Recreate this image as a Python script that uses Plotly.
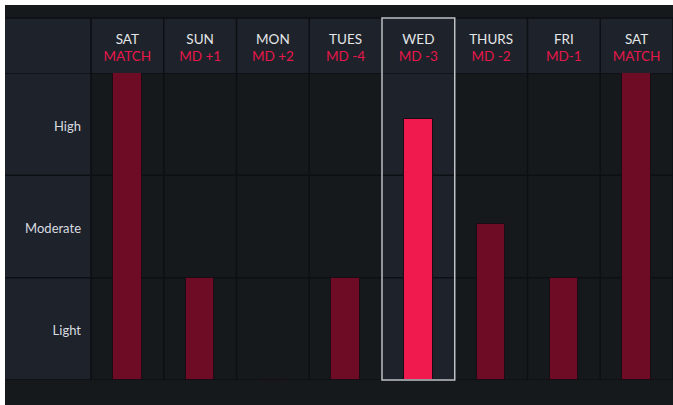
import plotly.graph_objects as go

# ---- data ----
days = ["SAT", "SUN", "MON", "TUES", "WED", "THURS", "FRI", "SAT"]
md_labels = ["MATCH", "MD +1", "MD +2", "MD -4", "MD -3", "MD -2", "MD-1", "MATCH"]
load_values = [3, 1, 0, 1, 2.55, 1.52, 1, 3]
levels = ["Light", "Moderate", "High"]
highlight_index = 4

# ---- styling ----
W, H = 673, 405
L, R, T, B = 91, 0, 73, 25
PW, PH = W - L - R, H - T - B
BG = "#15191c"
PANEL = "#1e222a"
GRID = "#0c0f13"
BAR = "#6e0c26"
BAR_HI = "#f01a4f"
RED_TXT = "#e5174b"
FONT = "Lato"
LABEL_NUDGE = 0.018  # small downward nudge of row labels, in row units


def px_x(px):
    return (px - L) / PW


def px_y(py):
    return (H - B - py) / PH


n = len(days)
x_idx = list(range(n))
colors = [BAR_HI if i == highlight_index else BAR for i in x_idx]
ticktext = [f"{d}<br><span style='color:{RED_TXT}'>{m}</span>" for d, m in zip(days, md_labels)]

fig = go.Figure()
fig.add_trace(go.Bar(
    x=x_idx, y=load_values, width=0.39,
    marker=dict(color=colors, line=dict(color="#1a0b14", width=1)),
    hoverinfo="skip",
))

shapes = []
# white outer margin strips
shapes.append(dict(type="rect", xref="paper", yref="paper", x0=px_x(0), x1=px_x(5), y0=px_y(H), y1=px_y(0),
                   fillcolor="white", line_width=0, layer="above"))
shapes.append(dict(type="rect", xref="paper", yref="paper", x0=px_x(0), x1=px_x(W), y0=px_y(5), y1=px_y(0),
                   fillcolor="white", line_width=0, layer="above"))
# header band and left column
shapes.append(dict(type="rect", xref="paper", yref="paper", x0=px_x(5), x1=px_x(W), y0=1, y1=px_y(18),
                   fillcolor=PANEL, line_width=0, layer="below"))
shapes.append(dict(type="rect", xref="paper", yref="paper", x0=px_x(5), x1=0, y0=0, y1=px_y(18),
                   fillcolor=PANEL, line_width=0, layer="below"))
# highlighted column fill
shapes.append(dict(type="rect", xref="x", yref="paper", x0=highlight_index - 0.5, x1=highlight_index + 0.5,
                   y0=0, y1=px_y(18), fillcolor=PANEL, line_width=0, layer="below"))
# grid: vertical separators
for i in range(n + 1):
    shapes.append(dict(type="line", xref="x", yref="paper", x0=i - 0.5, x1=i - 0.5, y0=0, y1=px_y(18),
                       line=dict(color=GRID, width=1.5), layer="below"))
shapes.append(dict(type="line", xref="paper", yref="paper", x0=0, x1=0, y0=0, y1=px_y(18),
                   line=dict(color=GRID, width=1.5), layer="below"))
# grid: horizontal separators
for yv in range(len(levels) + 1):
    shapes.append(dict(type="line", xref="paper", yref="y", x0=px_x(5), x1=1, y0=yv, y1=yv,
                       line=dict(color=GRID, width=1.5), layer="below"))
shapes.append(dict(type="line", xref="paper", yref="paper", x0=px_x(5), x1=1, y0=px_y(18), y1=px_y(18),
                   line=dict(color=GRID, width=1.5), layer="below"))
# highlight border
shapes.append(dict(type="rect", xref="x", yref="paper", x0=highlight_index - 0.5, x1=highlight_index + 0.5,
                   y0=0, y1=px_y(18), fillcolor="rgba(0,0,0,0)",
                   line=dict(color="#bfc3c7", width=1.5), layer="above"))

fig.update_layout(
    width=W, height=H,
    margin=dict(l=L, r=R, t=T, b=B, pad=0),
    paper_bgcolor=BG, plot_bgcolor="rgba(0,0,0,0)",
    showlegend=False,
    shapes=shapes,
    bargap=0,
    font=dict(family=FONT, color="#e6e8ea"),
)
fig.update_xaxes(
    range=[-0.5, n - 0.5], side="top", tickmode="array", tickvals=x_idx, ticktext=ticktext,
    showgrid=False, zeroline=False, showline=False, ticks="",
    tickfont=dict(family=FONT, size=13.5, color="#e4e6e8"), ticklabelstandoff=8, fixedrange=True,
)
fig.update_yaxes(
    range=[0, len(levels)], tickmode="array",
    tickvals=[i + 0.5 - LABEL_NUDGE for i in range(len(levels))], ticktext=levels,
    showgrid=False, zeroline=False, showline=False, ticks="",
    tickfont=dict(family=FONT, size=13, color="#d8dbe0"), ticklabelstandoff=9, fixedrange=True,
)

fig.write_html(
    "out.html",
    config={"displayModeBar": False},
    post_script="document.body.style.margin='0';document.body.style.overflow='hidden';",
)
